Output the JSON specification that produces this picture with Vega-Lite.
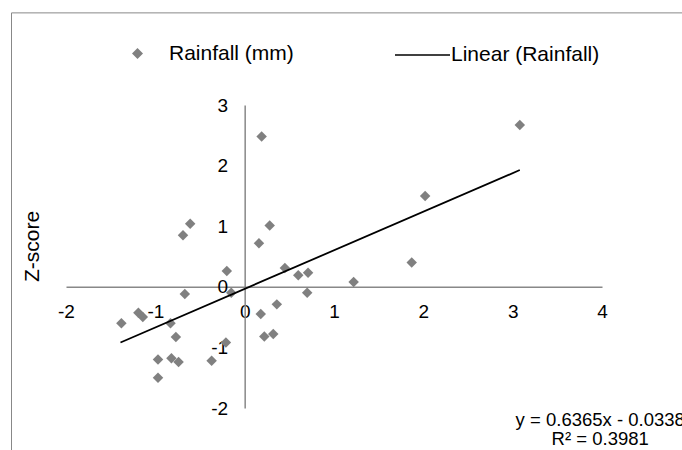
{
  "$schema": "https://vega.github.io/schema/vega-lite/v6.json",
  "width": 536,
  "height": 303,
  "autosize": "none",
  "padding": {"left": 66, "top": 105, "right": 80, "bottom": 42},
  "background": "white",
  "config": {"view": {"stroke": null}, "font": "Liberation Sans"},
  "layer": [
    {
      "data": {"values": [{}]},
      "mark": {"type": "rect", "fill": null, "stroke": "#888888", "strokeWidth": 1},
      "encoding": {
        "x": {"datum": -2.61, "type": "quantitative", "scale": {"domain": [-2, 4], "nice": false, "zero": false}},
        "x2": {"datum": 5.3},
        "y": {"datum": 4.52, "type": "quantitative", "scale": {"domain": [-2, 3], "nice": false, "zero": false}},
        "y2": {"datum": -3.2}
      }
    },
    {
      "data": {
        "values": [
          {"series": "Rainfall (mm)", "x": 0.19, "y": 2.48},
          {"series": "Rainfall (mm)", "x": -0.61, "y": 1.04},
          {"series": "Rainfall (mm)", "x": -0.69, "y": 0.85},
          {"series": "Rainfall (mm)", "x": 0.28, "y": 1.01},
          {"series": "Rainfall (mm)", "x": 0.16, "y": 0.72},
          {"series": "Rainfall (mm)", "x": -0.20, "y": 0.26},
          {"series": "Rainfall (mm)", "x": 0.45, "y": 0.31},
          {"series": "Rainfall (mm)", "x": 0.60, "y": 0.19},
          {"series": "Rainfall (mm)", "x": 0.71, "y": 0.23},
          {"series": "Rainfall (mm)", "x": -0.67, "y": -0.12},
          {"series": "Rainfall (mm)", "x": -0.15, "y": -0.10},
          {"series": "Rainfall (mm)", "x": -1.38, "y": -0.60},
          {"series": "Rainfall (mm)", "x": -1.19, "y": -0.43},
          {"series": "Rainfall (mm)", "x": -1.14, "y": -0.50},
          {"series": "Rainfall (mm)", "x": -0.83, "y": -0.60},
          {"series": "Rainfall (mm)", "x": -0.77, "y": -0.83},
          {"series": "Rainfall (mm)", "x": -0.97, "y": -1.20},
          {"series": "Rainfall (mm)", "x": -0.82, "y": -1.18},
          {"series": "Rainfall (mm)", "x": -0.74, "y": -1.24},
          {"series": "Rainfall (mm)", "x": -0.97, "y": -1.50},
          {"series": "Rainfall (mm)", "x": -0.37, "y": -1.22},
          {"series": "Rainfall (mm)", "x": -0.21, "y": -0.92},
          {"series": "Rainfall (mm)", "x": 0.18, "y": -0.45},
          {"series": "Rainfall (mm)", "x": 0.36, "y": -0.29},
          {"series": "Rainfall (mm)", "x": 0.22, "y": -0.82},
          {"series": "Rainfall (mm)", "x": 0.32, "y": -0.78},
          {"series": "Rainfall (mm)", "x": 0.70, "y": -0.10},
          {"series": "Rainfall (mm)", "x": 1.22, "y": 0.08},
          {"series": "Rainfall (mm)", "x": 1.87, "y": 0.40},
          {"series": "Rainfall (mm)", "x": 2.02, "y": 1.50},
          {"series": "Rainfall (mm)", "x": 3.08, "y": 2.67}
        ]
      },
      "mark": {"type": "point", "filled": true, "color": "#808080", "opacity": 1, "size": 110},
      "encoding": {
        "x": {
          "field": "x", "type": "quantitative",
          "scale": {"domain": [-2, 4], "nice": false, "zero": false},
          "axis": {
            "orient": "bottom", "offset": -121.2, "title": null, "ticks": false, "grid": false,
            "domainColor": "#888888", "domainWidth": 1.5,
            "labelFontSize": 19, "labelColor": "black", "labelPadding": 16,
            "labelExpr": "'' + datum.value",
            "values": [-2, -1, 0, 1, 2, 3, 4], "labelFlush": false, "labelOverlap": false
          }
        },
        "y": {
          "field": "y", "type": "quantitative",
          "scale": {"domain": [-2, 3], "nice": false, "zero": false},
          "axis": {
            "orient": "left", "offset": -178.67, "title": "Z-score",
            "titleX": -212, "titleY": 141, "titleAngle": -90, "titleBaseline": "middle", "titleAlign": "center",
            "titleFontSize": 21, "titleFontWeight": "normal", "titleColor": "black",
            "ticks": false, "grid": false, "domainColor": "#888888", "domainWidth": 1.5,
            "labelFontSize": 19, "labelColor": "black", "labelPadding": 17,
            "labelExpr": "'' + datum.value",
            "values": [-2, -1, 0, 1, 2, 3], "labelFlush": false, "labelOverlap": false
          }
        },
        "shape": {
          "field": "series", "type": "nominal",
          "scale": {"range": ["diamond"]},
          "legend": {
            "orient": "none", "legendX": 61, "legendY": -62, "title": null, "padding": 0,
            "symbolSize": 121, "symbolFillColor": "#808080", "symbolStrokeWidth": 0,
            "labelFontSize": 21, "labelColor": "black", "labelOffset": 21
          }
        }
      }
    },
    {
      "data": {
        "values": [
          {"series": "Linear (Rainfall)", "x": -1.39, "y": -0.9185},
          {"series": "Linear (Rainfall)", "x": 3.08, "y": 1.9266}
        ]
      },
      "mark": {"type": "line", "strokeWidth": 1.8},
      "encoding": {
        "x": {"field": "x", "type": "quantitative"},
        "y": {"field": "y", "type": "quantitative"},
        "color": {
          "field": "series", "type": "nominal",
          "scale": {"range": ["black"]},
          "legend": {
            "orient": "none", "legendX": 328, "legendY": -78.5, "title": null, "padding": 0,
            "symbolType": "stroke", "symbolSize": 3025, "symbolStrokeWidth": 1.5, "symbolStrokeColor": "black",
            "labelFontSize": 21, "labelColor": "black", "labelOffset": 0
          }
        }
      }
    },
    {
      "data": {"values": [{"label": "y = 0.6365x - 0.0338\nR² = 0.3981"}]},
      "mark": {"type": "text", "align": "center", "baseline": "middle", "fontSize": 18.5, "lineBreak": "\n", "lineHeight": 19, "color": "black"},
      "encoding": {
        "x": {"datum": 3.98, "type": "quantitative"},
        "y": {"datum": -2.2, "type": "quantitative"},
        "text": {"field": "label"}
      }
    }
  ]
}
